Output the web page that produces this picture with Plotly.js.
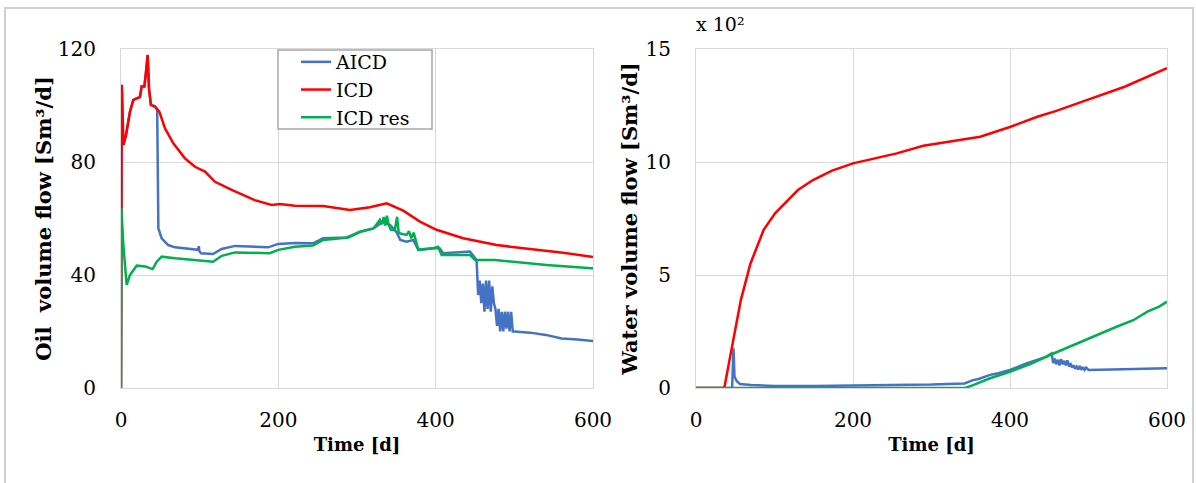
<!DOCTYPE html>
<html>
<head>
<meta charset="utf-8">
<script src="https://cdn.plot.ly/plotly-3.0.1.min.js"></script>
<style>html,body{margin:0;padding:0;background:#fff;}#chart{width:1196px;height:483px;}</style>
</head>
<body>
<div id="chart"></div>
<script>
// ---- Oil volume flow (left) ----
const oilAicdT = [0, 0.5, 1, 3, 6.4, 11.4, 15.7, 20, 24, 26.3, 29.7, 31.4, 33.9, 35.6, 38, 43.2, 46, 47.5, 51.7, 60, 68.6, 98, 99, 99.5, 101.7, 117, 128, 145, 187, 200, 221, 244, 257, 287, 304, 321, 333, 342, 350, 355, 363, 371.5, 378, 397, 405, 409.7, 443.6, 452, 454, 456, 458, 460, 462, 464, 466, 468, 470, 472, 474, 476, 478, 480, 482, 484, 486, 488, 490, 492, 494, 496, 498, 500, 520, 540, 560, 580, 600];
const oilAicd = [0, 63, 107.3, 86, 89.6, 97.8, 102, 102.5, 103, 106.7, 106.7, 110.8, 117.9, 106, 100.2, 99.6, 98.6, 56.5, 53, 50.6, 49.8, 48.9, 50.2, 48.5, 47.7, 47.4, 49.2, 50.3, 49.8, 51, 51.3, 51.2, 53, 53.3, 55.3, 56.5, 58.9, 57.7, 55.3, 52.4, 51.8, 52.4, 48.9, 49.5, 49.5, 47.7, 48.3, 45.3, 32.9, 38, 30, 37, 27, 38, 28, 38, 27, 36, 30, 28, 22, 28, 20, 27, 20, 27, 21, 27, 20, 27, 20, 20, 19.6, 18.8, 17.5, 17.2, 16.6];

const oilIcdT = [0, 0.5, 1, 3, 6.4, 11.4, 15.7, 20, 24, 26.3, 29.7, 31.4, 33.9, 35.6, 38, 43.2, 48.7, 56, 66.5, 81.3, 94, 106.8, 119.5, 140.7, 170, 191.5, 202, 221, 257, 291, 316.5, 337.7, 358.8, 380, 401, 435, 477.5, 520, 562, 598, 600];
const oilIcd = [0, 63, 107.3, 86, 89.6, 97.8, 102, 102.5, 103, 106.7, 106.7, 110.8, 117.9, 106, 100.2, 99.6, 97.8, 91.9, 86.6, 81.3, 78.3, 76.6, 73, 70.1, 66.5, 64.8, 65.1, 64.5, 64.4, 63, 64, 65.4, 62.8, 58.9, 56, 53, 50.6, 49.2, 47.9, 46.5, 46.4];

const oilResT = [0, 0.5, 3, 7.2, 11.4, 20, 31, 40.3, 45.4, 51.7, 68.6, 117, 128, 145, 189, 200, 221, 244, 257, 289, 304, 321, 329, 332, 334, 336, 338, 340, 343, 348, 351, 353, 355, 363, 366, 369, 372, 378, 397, 403, 407.6, 443.6, 450, 475, 498.7, 541, 598, 600];
const oilRes = [0, 63.6, 50.6, 36.5, 40, 43.3, 43, 42.1, 44.7, 46.5, 45.9, 44.7, 46.8, 48, 47.7, 48.9, 50, 50.4, 52.4, 53.3, 55.3, 56.5, 59.5, 58, 60.5, 57.5, 61, 58, 56, 55.9, 60.6, 55, 54.7, 54.2, 55.5, 53, 55, 48.9, 49.5, 50, 47.1, 47.1, 45.3, 45.3, 44.7, 43.5, 42.4, 42.3];

// ---- Water volume flow (right), x 10^2 ----
const watAicdT = [0, 46, 47.8, 49, 52, 56, 70, 100, 150, 200, 250, 300, 342, 345, 353, 360, 374.6, 385, 400, 421, 446.8, 453, 455, 457, 459, 461, 463, 465, 467, 469, 471, 473, 475, 477, 479, 481, 483, 485, 487, 489, 491, 493, 495, 497, 500, 530, 560, 600];
const watAicd = [0, 0, 1.76, 0.5, 0.3, 0.18, 0.13, 0.09, 0.09, 0.1, 0.12, 0.15, 0.2, 0.25, 0.35, 0.4, 0.58, 0.65, 0.8, 1.09, 1.39, 1.53, 1.1, 1.3, 1.05, 1.25, 1.0, 1.28, 1.05, 1.2, 1.0, 1.22, 0.95, 1.1, 0.9, 1.0, 0.85, 0.95, 0.82, 0.98, 0.8, 0.93, 0.8, 0.9, 0.8, 0.82, 0.84, 0.87];

const watIcdT = [0, 36, 47.5, 57.2, 69.3, 86.2, 100.7, 115, 129.8, 149, 173.3, 200, 226.7, 255.7, 289.6, 338, 362, 381.5, 400.8, 434.8, 459, 497.7, 546, 600];
const watIcd = [0, 0, 2.12, 3.9, 5.5, 7.0, 7.73, 8.24, 8.76, 9.2, 9.62, 9.94, 10.16, 10.38, 10.72, 10.97, 11.12, 11.34, 11.56, 12.0, 12.26, 12.74, 13.33, 14.15];

const watResT = [0, 343, 353, 374.6, 400, 425, 451, 480.7, 510, 535, 557, 575, 590, 600];
const watRes = [0, 0, 0.13, 0.43, 0.72, 1.05, 1.46, 1.9, 2.35, 2.7, 3.0, 3.38, 3.6, 3.82];

const seriesNames = ['AICD', 'ICD', 'ICD res'];
const xTicks = [0, 200, 400, 600];
const oilTicks = [0, 40, 80, 120];
const watTicks = [0, 5, 10, 15];

const colors = ['#4472C4', '#FF0000', '#00B050'];
const W = 1196, H = 483;
const FONT = 'DejaVu Serif';

function line(x, y, i, xa, ya, leg) {
  return {x: x, y: y, type: 'scatter', mode: 'lines', name: seriesNames[i],
    line: {color: colors[i], width: 2.5}, xaxis: xa, yaxis: ya, showlegend: leg, hoverinfo: 'skip'};
}

const data = [
  line(oilAicdT, oilAicd, 0, 'x', 'y', true),
  line(oilIcdT, oilIcd, 1, 'x', 'y', true),
  line(oilResT, oilRes, 2, 'x', 'y', true),
  line(watAicdT, watAicd, 0, 'x2', 'y2', false),
  line(watIcdT, watIcd, 1, 'x2', 'y2', false),
  line(watResT, watRes, 2, 'x2', 'y2', false)
];

const axisCommon = {
  showgrid: true, gridcolor: '#d9d9d9', gridwidth: 1,
  showline: true, linecolor: '#d9d9d9', linewidth: 1, mirror: true,
  zeroline: false, ticks: '', tickfont: {family: FONT, size: 20, color: '#000'},
  fixedrange: true
};
const titleFont = {family: FONT, size: 18, weight: 'bold', color: '#000'};
const yTitleFont = {family: FONT, size: 21, weight: 'bold', color: '#000'};

const layout = {
  width: W, height: H,
  margin: {l: 0, r: 0, t: 0, b: 0},
  paper_bgcolor: '#fff', plot_bgcolor: '#fff',
  font: {family: FONT, color: '#000'},
  xaxis: Object.assign({}, axisCommon, {
    domain: [121 / W, 593 / W], range: [0, 600], tickvals: xTicks, ticklabelstandoff: 14,
    anchor: 'y',
    title: {text: 'Time [d]', font: titleFont, standoff: 7}
  }),
  yaxis: Object.assign({}, axisCommon, {
    domain: [(H - 388) / H, (H - 49) / H], range: [0, 120], tickvals: oilTicks, ticklabelstandoff: 20,
    anchor: 'x',
    title: {text: 'Oil\u00a0 volume flow [Sm\u00b3/d]', font: yTitleFont, standoff: 0}
  }),
  xaxis2: Object.assign({}, axisCommon, {
    domain: [696 / W, 1167 / W], range: [0, 600], tickvals: xTicks, ticklabelstandoff: 14,
    anchor: 'y2',
    title: {text: 'Time [d]', font: titleFont, standoff: 7}
  }),
  yaxis2: Object.assign({}, axisCommon, {
    domain: [(H - 388) / H, (H - 49) / H], range: [0, 15], tickvals: watTicks, ticklabelstandoff: 20,
    anchor: 'x2',
    title: {text: 'Water volume flow [Sm\u00b3/d]', font: yTitleFont, standoff: 2}
  }),
  legend: {
    x: 296 / W, y: (H - 43) / H, xanchor: 'left', yanchor: 'top',
    bgcolor: 'rgba(0,0,0,0)', borderwidth: 0,
    font: {family: FONT, size: 19, color: '#000'},
    itemwidth: 30
  },
  annotations: [{
    xref: 'paper', yref: 'paper', x: 694 / W, y: (H - 24) / H, xanchor: 'left', yanchor: 'middle',
    text: 'x 10\u00b2', showarrow: false, font: {family: FONT, size: 19, color: '#000'}
  }],
  shapes: [{
    type: 'rect', xref: 'paper', yref: 'paper',
    x0: 5 / W, x1: 1193 / W, y0: -0.02, y1: (H - 8) / H,
    line: {color: '#d0d0d0', width: 2}, fillcolor: 'rgba(0,0,0,0)', layer: 'below'
  }, {
    type: 'rect', xref: 'paper', yref: 'paper',
    x0: 278 / W, x1: 432 / W, y0: (H - 129) / H, y1: (H - 50) / H,
    line: {color: '#a6a6a6', width: 1.5}, fillcolor: '#fff', layer: 'above'
  }]
};

Plotly.newPlot('chart', data, layout, {staticPlot: true, displayModeBar: false});
</script>
</body>
</html>
